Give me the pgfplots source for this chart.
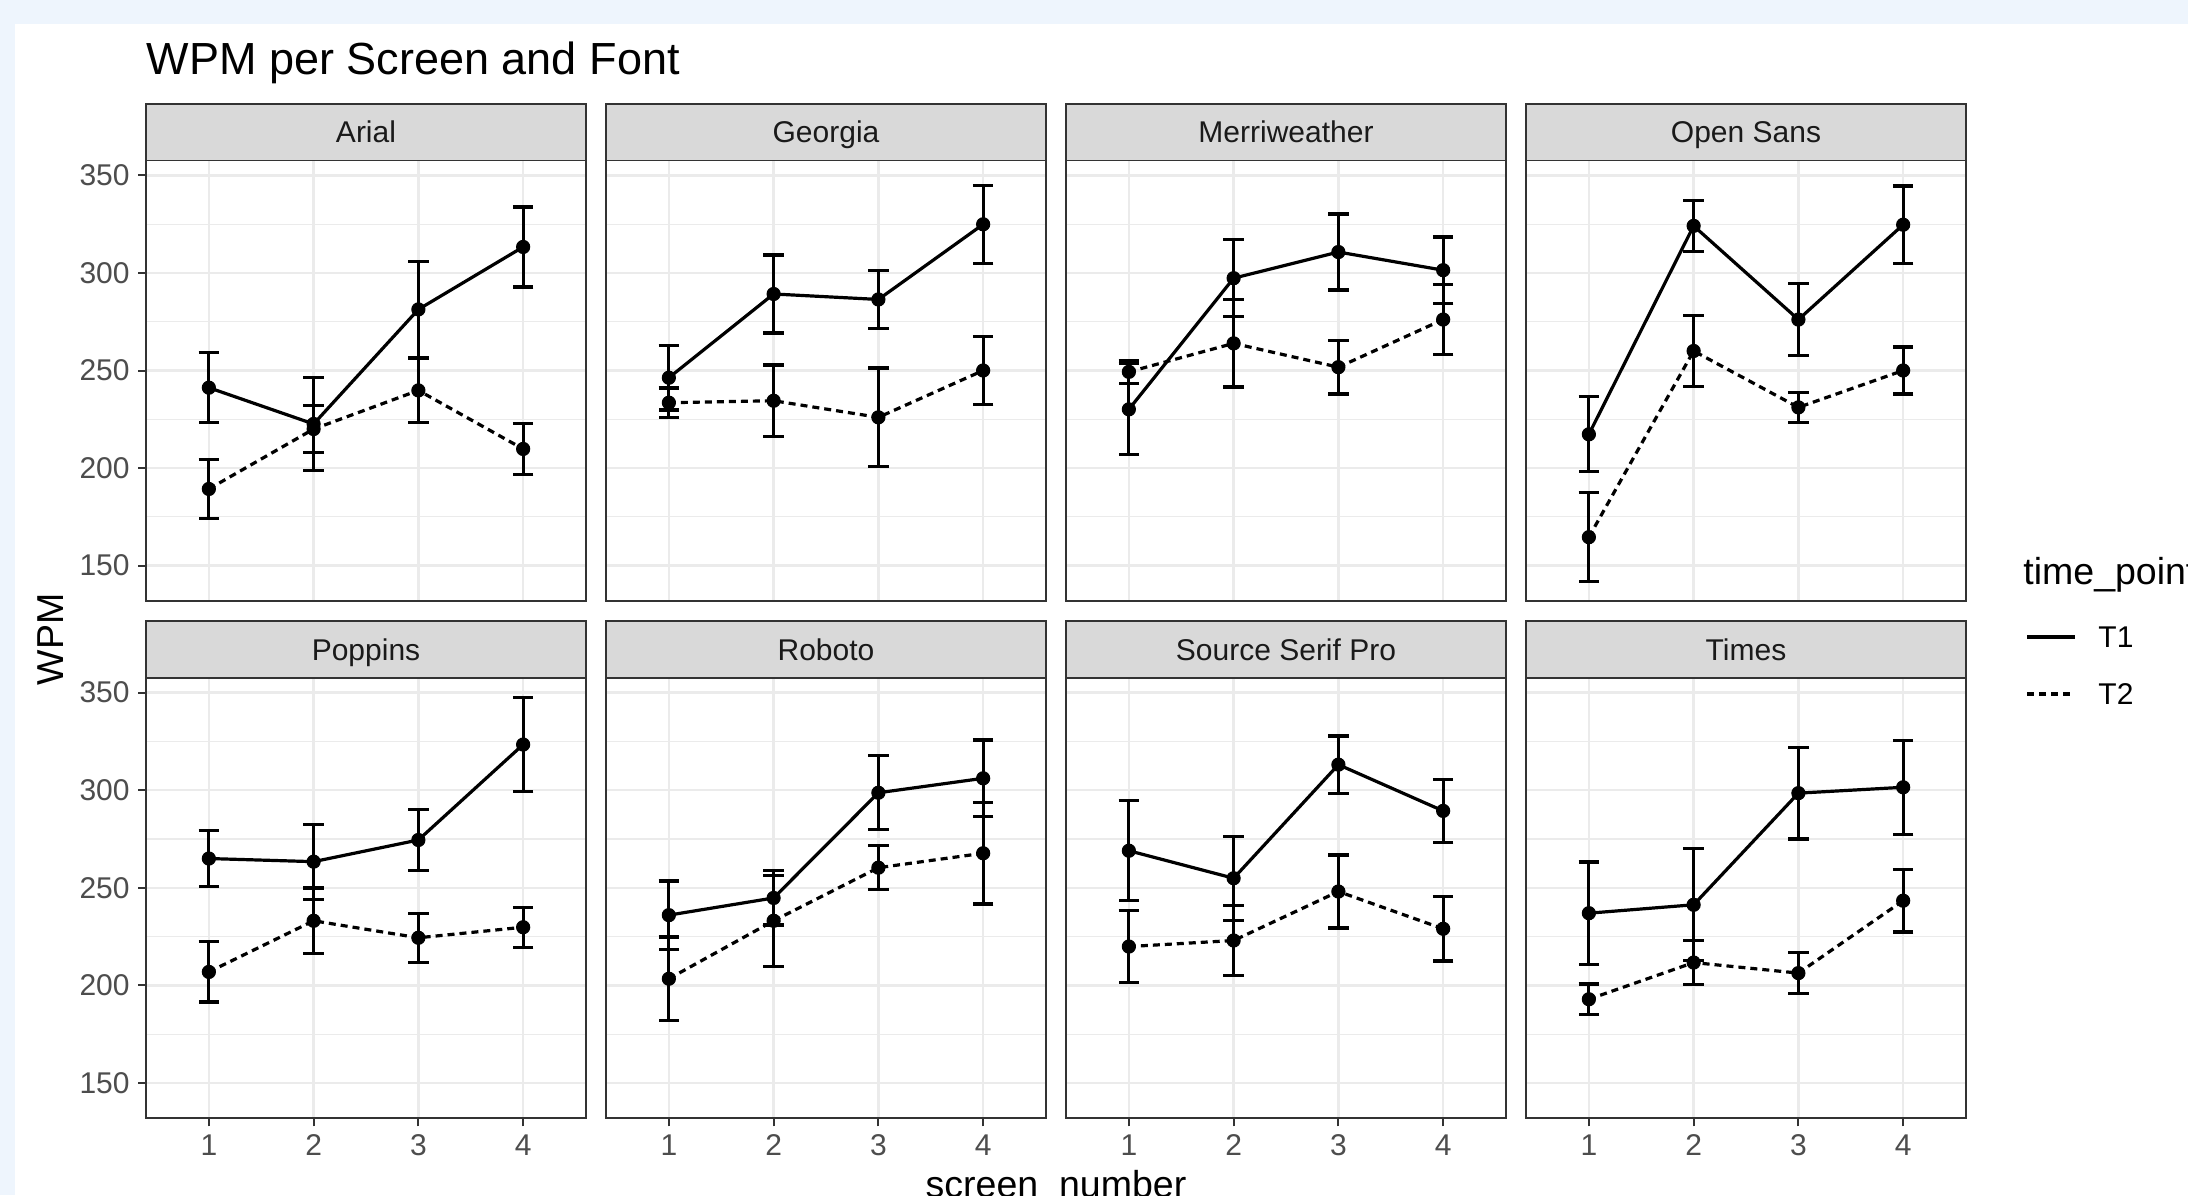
\documentclass[border=0pt]{standalone}
\usepackage{fontspec}
\setmainfont{Liberation Sans}
\usepackage{pgfplots}
\usepackage{pgfplotstable}
\pgfplotsset{compat=1.18}
\definecolor{bgblue}{HTML}{EEF5FD}
\definecolor{grey10}{HTML}{1A1A1A}
\definecolor{grey20}{HTML}{333333}
\definecolor{grey30}{HTML}{4D4D4D}
\definecolor{grey85}{HTML}{D9D9D9}
\definecolor{grey92}{HTML}{EBEBEB}

% columns: screen, T1 mean, T1 error, T2 mean, T2 error
\pgfplotstableread{
x y1 e1 y2 e2
1 241.2 18.0 189.3 15.0
2 222.6 24.0 220.0 12.0
3 281.3 24.5 239.8 16.3
4 313.3 20.5 209.8 13.0
}\arial
\pgfplotstableread{
x y1 e1 y2 e2
1 246.3 16.5 233.5 7.5
2 289.2 20.0 234.5 18.3
3 286.4 15.0 226.0 25.3
4 324.9 20.0 250.0 17.3
}\georgia
\pgfplotstableread{
x y1 e1 y2 e2
1 230.1 23.3 249.3 6.0
2 297.3 19.7 263.9 22.4
3 310.7 19.5 251.7 13.7
4 301.4 17.0 276.1 17.8
}\merri
\pgfplotstableread{
x y1 e1 y2 e2
1 217.3 19.2 164.6 22.9
2 324.1 13.2 260.0 18.3
3 276.1 18.5 231.1 7.8
4 324.7 19.8 250.0 12.0
}\opensans
\pgfplotstableread{
x y1 e1 y2 e2
1 265.0 14.3 206.9 15.4
2 263.4 19.2 233.1 16.8
3 274.5 15.8 224.4 12.6
4 323.4 24.1 229.8 10.3
}\poppins
\pgfplotstableread{
x y1 e1 y2 e2
1 236.0 17.5 203.4 21.4
2 244.8 13.9 233.1 23.3
3 298.7 19.0 260.3 11.2
4 306.1 19.6 267.7 26.0
}\roboto
\pgfplotstableread{
x y1 e1 y2 e2
1 269.0 25.7 219.9 18.3
2 254.9 21.5 223.0 18.0
3 313.1 14.7 248.1 18.7
4 289.4 16.2 229.0 16.5
}\sourceserif
\pgfplotstableread{
x y1 e1 y2 e2
1 237.0 26.2 192.9 7.8
2 241.3 28.7 211.7 11.3
3 298.5 23.5 206.3 10.6
4 301.5 24.0 243.4 16.0
}\times

\pgfplotsset{
  facet/.style={
    scale only axis, width=220pt, height=220.25pt, anchor=south west,
    xmin=0.4, xmax=4.6, ymin=131.9, ymax=357.6,
    xtick={1,2,3,4}, ytick={150,200,250,300,350},
    minor ytick={175,225,275,325},
    grid=both,
    major grid style={grey92, line width=1.2pt},
    minor grid style={grey92, line width=0.6pt},
    axis line style={grey20, line width=0.9pt},
    tick align=outside, xtick pos=bottom, ytick pos=left,
    major tick length=4pt, minor tick length=0pt,
    tick style={grey20, line width=1pt},
    ticklabel style={font=\fontsize{15}{18}\selectfont, text=grey30, inner sep=0pt},
    xticklabel style={yshift=-4.15pt},
    yticklabel style={xshift=-4pt},
    /pgf/number format/assume math mode=true,
  },
  noy/.style={yticklabels={}, ytick style={draw=none}},
  nox/.style={xticklabels={}, xtick style={draw=none}},
  t1/.style={black, solid, line width=1.6pt, line cap=butt,
    mark=*, mark size=3.3pt, mark options={solid, line width=0.5pt},
    error bars/.cd, y dir=both, y explicit,
    error bar style={solid, line width=1.6pt},
    error mark options={solid, rotate=90, mark size=5.15pt, line width=1.6pt}},
  t2/.style={black, line width=1.6pt, line cap=butt, dash pattern=on 3.5pt off 2.5pt,
    mark=*, mark size=3.3pt, mark options={solid, line width=0.5pt},
    error bars/.cd, y dir=both, y explicit,
    error bar style={solid, line width=1.6pt},
    error mark options={solid, rotate=90, mark size=5.15pt, line width=1.6pt}},
}

\newcommand{\facet}[5]{%
\begin{axis}[facet, at={(#1,#2)}, #5,
  after end axis/.append code={
    \draw[fill=grey85, draw=grey20, line width=0.9pt] (rel axis cs:0,1) rectangle ([yshift=28.25pt]rel axis cs:1,1);
    \node[anchor=base, font=\fontsize{15}{18}\selectfont, text=grey10, inner sep=0pt] at ([yshift=8.9pt]rel axis cs:0.5,1) {#3};
  }]
\addplot[t1] table[x=x, y=y1, y error=e1] {#4};
\addplot[t2] table[x=x, y=y2, y error=e2] {#4};
\end{axis}}

\begin{document}
\begin{tikzpicture}
\useasboundingbox (0,0) rectangle (1094pt,597.5pt);
\clip (0,0) rectangle (1094pt,597.5pt);
\fill[bgblue] (0,0) rectangle (1094pt,597.5pt);
\fill[white] (7.5pt,0) rectangle (1094pt,585.5pt);

\facet{73pt}{297pt}{Arial}{\arial}{nox}
\facet{303pt}{297pt}{Georgia}{\georgia}{nox,noy}
\facet{533pt}{297pt}{Merriweather}{\merri}{nox,noy}
\facet{763pt}{297pt}{Open Sans}{\opensans}{nox,noy}
\facet{73pt}{38.35pt}{Poppins}{\poppins}{}
\facet{303pt}{38.35pt}{Roboto}{\roboto}{noy}
\facet{533pt}{38.35pt}{Source Serif Pro}{\sourceserif}{noy}
\facet{763pt}{38.35pt}{Times}{\times}{noy}

\node[anchor=base west, inner sep=0pt, font=\fontsize{22.5}{27}\selectfont] at (73.25pt,560pt) {WPM per Screen and Font};
\node[anchor=base, rotate=90, inner sep=0pt, font=\fontsize{18.75}{22}\selectfont] at (31.5pt,277.9pt) {WPM};
\node[anchor=base, inner sep=0pt, font=\fontsize{18.75}{22}\selectfont] at (528pt,-1pt) {screen\_number};

\node[anchor=base west, inner sep=0pt, font=\fontsize{18.75}{22}\selectfont] at (1011.5pt,305pt) {time\_point};
\draw[black, line width=1.6pt] (1013.5pt,279pt) -- (1037.5pt,279pt);
\draw[black, line width=1.6pt, dash pattern=on 3.5pt off 2.5pt] (1013.5pt,250.5pt) -- (1037.5pt,250.5pt);
\node[anchor=base west, inner sep=0pt, font=\fontsize{15}{18}\selectfont] at (1049pt,273.85pt) {T1};
\node[anchor=base west, inner sep=0pt, font=\fontsize{15}{18}\selectfont] at (1049pt,245.15pt) {T2};
\end{tikzpicture}
\end{document}
